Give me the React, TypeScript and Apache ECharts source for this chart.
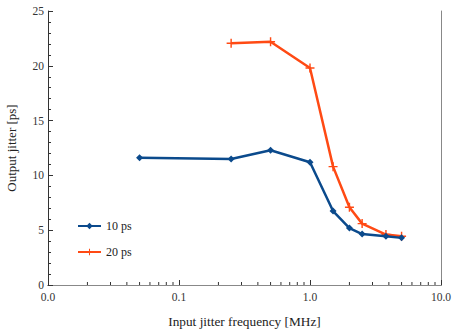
import React, { useEffect, useRef } from "react";
import * as echarts from "echarts";

const freqs10 = [0.05, 0.25, 0.5, 1.0, 1.5, 2.0, 2.5, 3.8, 5.0];
const jitter10 = [11.6, 11.5, 12.3, 11.2, 6.75, 5.2, 4.65, 4.45, 4.3];
const freqs20 = [0.25, 0.5, 1.0, 1.5, 2.0, 2.5, 3.8, 5.0];
const jitter20 = [22.05, 22.2, 19.8, 10.8, 7.1, 5.6, 4.6, 4.45];
const seriesNames = ["10 ps", "20 ps"];
const xMinorTicks = [
  0.02, 0.03, 0.04, 0.05, 0.06, 0.07, 0.08, 0.09,
  0.2, 0.3, 0.4, 0.5, 0.6, 0.7, 0.8, 0.9,
  2, 3, 4, 5, 6, 7, 8, 9,
];

const BLUE = "#0b4a8c";
const RED = "#ff4a14";
const FONT = "'Liberation Serif', 'DejaVu Serif', serif";
const PLUS = "path://M4.2,0H5.8V4.2H10V5.8H5.8V10H4.2V5.8H0V4.2H4.2Z";

export default function App() {
  const ref = useRef<HTMLDivElement>(null);
  useEffect(() => {
    if (!ref.current) return;
    const chart = echarts.init(ref.current, null, { renderer: "svg" });
    const axisColor = "#333";
    chart.setOption({
      animation: false,
      backgroundColor: "#fff",
      textStyle: { fontFamily: FONT },
      grid: { left: 48, top: 11, right: 12, bottom: 45, outerBoundsMode: "none", containLabel: false },
      legend: {
        data: seriesNames,
        orient: "vertical",
        left: 72,
        top: 215,
        itemWidth: 23,
        itemHeight: 8,
        itemGap: 14,
        textStyle: { fontFamily: FONT, fontSize: 12, color: "#222" },
      },
      xAxis: [
        {
          type: "log",
          logBase: 10,
          min: 0.01,
          max: 10,
          name: "Input jitter frequency [MHz]",
          nameLocation: "middle",
          nameGap: 30,
          nameTextStyle: { fontFamily: FONT, fontSize: 13.3, color: "#222" },
          axisLine: { lineStyle: { color: axisColor, width: 1 } },
          axisTick: { inside: true, length: 5, lineStyle: { color: axisColor } },
          axisLabel: {
            fontFamily: FONT,
            fontSize: 11.5,
            color: "#333",
            margin: 6,
            formatter: (v: number) => v.toFixed(1),
          },
          splitLine: { show: false },
        },
        {
          type: "log",
          logBase: 10,
          min: 0.01,
          max: 10,
          position: "top",
          axisLine: { lineStyle: { color: "#888" } },
          axisTick: { show: false },
          axisLabel: { show: false },
          splitLine: { show: false },
        },
      ],
      yAxis: [
        {
          type: "value",
          min: 0,
          max: 25,
          interval: 5,
          name: "Output jitter [ps]",
          nameLocation: "middle",
          nameGap: 30,
          nameTextStyle: { fontFamily: FONT, fontSize: 13, color: "#222" },
          axisLine: { show: true, lineStyle: { color: axisColor, width: 1 } },
          axisTick: { inside: true, length: 5, lineStyle: { color: axisColor } },
          minorTick: { show: true, splitNumber: 5, length: 3, lineStyle: { color: axisColor } },
          axisLabel: { fontFamily: FONT, fontSize: 11.5, color: "#333", margin: 4 },
          splitLine: { show: false },
        },
        {
          type: "value",
          min: 0,
          max: 25,
          position: "right",
          axisLine: { show: true, lineStyle: { color: "#888" } },
          axisTick: { show: false },
          axisLabel: { show: false },
          splitLine: { show: false },
        },
      ],
      series: [
        {
          name: seriesNames[0],
          type: "line",
          data: freqs10.map((f, i) => [f, jitter10[i]]),
          symbol: "diamond",
          symbolSize: 7,
          lineStyle: { color: BLUE, width: 2.5 },
          itemStyle: { color: BLUE },
          z: 3,
        },
        {
          name: seriesNames[1],
          type: "line",
          data: freqs20.map((f, i) => [f, jitter20[i]]),
          symbol: PLUS,
          symbolSize: 9,
          lineStyle: { color: RED, width: 2.5 },
          itemStyle: { color: RED },
          z: 2,
        },
        {
          type: "custom",
          name: "minorTicks",
          data: xMinorTicks.map((v) => [v, 0]),
          silent: true,
          clip: false,
          renderItem: (params: any, api: any) => {
            const p = api.coord([api.value(0), 0]);
            return {
              type: "line",
              shape: { x1: p[0], y1: p[1], x2: p[0], y2: p[1] - 3 },
              style: { stroke: axisColor, lineWidth: 1 },
            };
          },
        },
      ],
    });
    return () => chart.dispose();
  }, []);
  return (
    <div
      ref={ref}
      style={{ position: "fixed", left: 0, top: 0, width: 453, height: 330 }}
    />
  );
}
